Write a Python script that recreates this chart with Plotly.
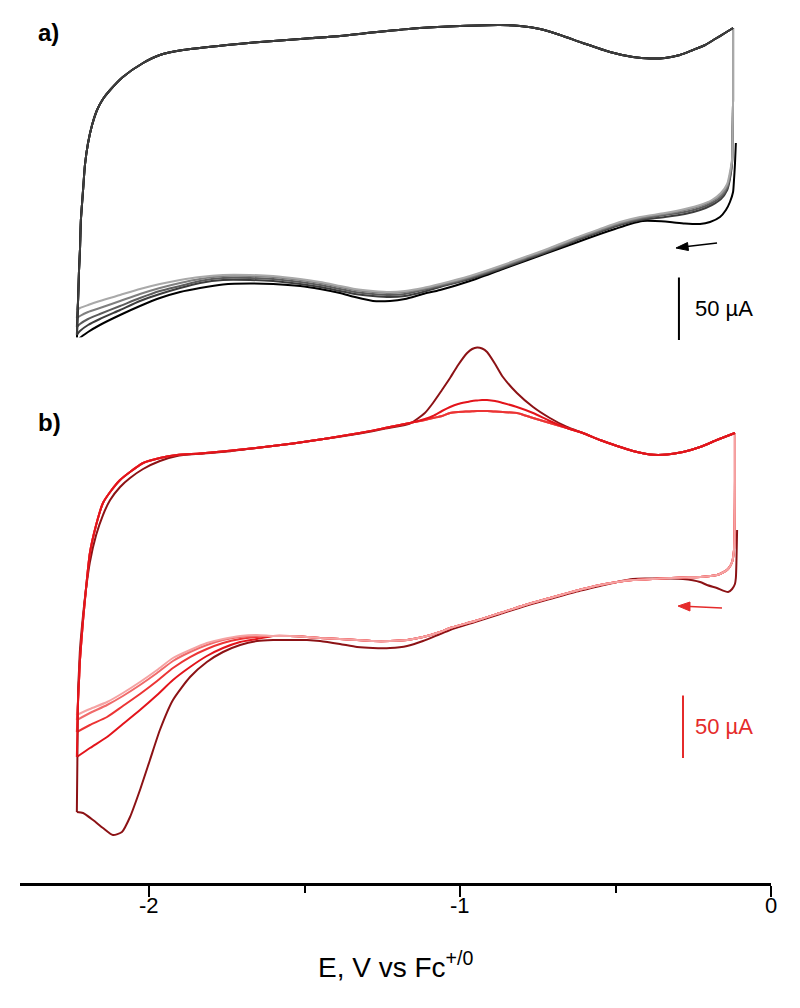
import plotly.graph_objects as go

# ================= Panel a : blank electrolyte scans (black -> light grey) =================
# anodic (return) sweep, shared by all scans of panel a
a_top_E = [-2.228, -2.225, -2.222, -2.219, -2.212, -2.206, -2.196, -2.183, -2.167, -2.148, -2.125, -2.084,
           -2.019, -1.965, -1.891, -1.749, -1.643, -1.514, -1.386, -1.267, -1.129, -1.000, -0.871, -0.807,
           -0.743, -0.678, -0.605, -0.518, -0.444, -0.389, -0.341, -0.293, -0.251, -0.212, -0.180, -0.148, -0.122]
a_top_I = [-80, -56, -40, -16, 8, 28, 45.6, 60, 72, 80.8, 88, 98.4, 109.6, 116, 120, 124, 126.4, 128.8, 131.2,
           134.4, 137.6, 139.2, 140, 139.2, 136.8, 132, 125.6, 118.4, 114.4, 113.2, 113.6, 116, 120, 124, 128.8,
           133.6, 137.6]

# first scan (black), cathodic sweep
a_black_E = [-0.113, -0.116, -0.119, -0.122, -0.132, -0.145, -0.164, -0.196, -0.228, -0.277, -0.325, -0.373,
             -0.412, -0.453, -0.502, -0.550, -0.630, -0.711, -0.791, -0.871, -0.968, -1.064, -1.119, -1.177,
             -1.225, -1.280, -1.338, -1.386, -1.450, -1.514, -1.601, -1.675, -1.762, -1.836, -1.900, -1.965,
             -2.029, -2.093, -2.158, -2.196, -2.222, -2.232]
a_black_I = [45.6, 28, 16, 6.4, -1.6, -8, -13.6, -17.6, -19.2, -18.8, -17.6, -16.8, -16.8, -19.2, -23.2, -27.2,
             -34.4, -41.6, -48.8, -56, -64.8, -72, -75.2, -79.2, -80.8, -80.8, -77.6, -74.4, -71.2, -68.8, -67.2,
             -66.8, -67.6, -70.4, -73.6, -78.4, -84.8, -92, -100, -105.6, -110.4, -113.6]

# later scans (greys), cathodic sweep
a_grey_E = [-0.122, -0.122, -0.124, -0.125, -0.132, -0.141, -0.161, -0.190, -0.228, -0.277, -0.341, -0.421,
            -0.486, -0.550, -0.630, -0.711, -0.791, -0.871, -0.968, -1.064, -1.119, -1.177, -1.225, -1.280,
            -1.338, -1.386, -1.450, -1.514, -1.601, -1.675, -1.762, -1.836, -1.900, -1.965, -2.029, -2.093,
            -2.158, -2.196, -2.222, -2.232]
a_scan2_I = [137.6, 80, 48, 30.4, 16.8, 8, 0.8, -4, -8, -11.2, -13.6, -16, -20, -25.6, -32.8, -40.8, -48, -55.2,
             -63.2, -69.6, -73.6, -76.8, -77.6, -76.8, -75.2, -72.8, -69.6, -67.2, -64.8, -64, -64, -66.4, -70.4,
             -75.2, -80.8, -88, -95.2, -100, -104.8, -108]
a_scan3_I = [137.6, 80, 48, 31.2, 18.4, 9.6, 2.4, -2.4, -6.4, -9.6, -12, -15.2, -19.2, -24.8, -32, -40, -47.2,
             -54.4, -62.4, -68.8, -72, -75.2, -76, -75.2, -73.6, -71.2, -68, -65.6, -63.2, -62.4, -62.4, -64.8,
             -68.8, -72.8, -78.4, -84.8, -91.2, -95.2, -99.2, -101.6]
a_scan4_I = [137.6, 80, 48, 32, 20, 11.2, 4, -0.8, -4.8, -8, -11.2, -14.4, -18.4, -24, -31.2, -39.2, -46.4, -53.6,
             -61.6, -68, -71.2, -73.6, -74.4, -73.6, -72, -69.6, -66.4, -64, -61.6, -60.8, -60.8, -63.2, -66.4,
             -70.4, -75.2, -80.8, -86.4, -89.6, -92.8, -94.4]
a_scan5_I = [137.6, 80, 48, 33.6, 22.4, 12.8, 5.6, 0, -4, -7.2, -10.4, -13.6, -17.6, -23.2, -30.4, -38.4, -45.6,
             -52.8, -60.8, -67.2, -70.4, -72.8, -73.6, -72.8, -71.2, -68.8, -65.6, -63.2, -60.8, -60, -60, -61.6,
             -64, -67.2, -71.2, -76, -80.8, -84, -86.4, -88]

a_colors = ["#000000", "#3d3d3d", "#5c5c5c", "#7f7f7f", "#a9a9a9"]

# ================= Panel b : scans with analyte (dark red -> light pink) =================
# first scan (dark red), cathodic sweep
b_dr_cath_E = [-0.109, -0.111, -0.113, -0.116, -0.125, -0.138, -0.174, -0.206, -0.228, -0.283, -0.325, -0.357,
               -0.405, -0.444, -0.495, -0.550, -0.630, -0.711, -0.791, -0.871, -0.952, -1.032, -1.064, -1.119,
               -1.170, -1.225, -1.280, -1.331, -1.386, -1.450, -1.492, -1.547, -1.601, -1.653, -1.707, -1.762,
               -1.814, -1.868, -1.923, -1.965, -1.997, -2.029, -2.061, -2.087, -2.116, -2.148, -2.180, -2.212,
               -2.232]
b_dr_cath_I = [56, 32, 17.6, 12.8, 8.8, 6.4, 9.6, 12, 14.4, 16.8, 17.2, 17.2, 17.2, 16.8, 14.4, 11.2, 6.4, 0.8,
               -4.8, -11.2, -17.6, -24, -27.2, -32.8, -36.8, -38.4, -38.4, -37.6, -35.2, -32.8, -32, -32, -32,
               -32.8, -36, -41.6, -49.6, -61.6, -80, -104, -128, -152, -173.6, -185.6, -188, -182.4, -176,
               -170.4, -169.6]

# later scans, cathodic sweep: common right part, then individual left part
b_cath_E = [-0.116, -0.116, -0.117, -0.119, -0.125, -0.138, -0.158, -0.174, -0.228, -0.283, -0.357, -0.444,
            -0.495, -0.550, -0.630, -0.711, -0.791, -0.871, -0.952, -1.032, -1.064, -1.119, -1.170, -1.225,
            -1.280, -1.331, -1.386, -1.450, -1.492, -1.547, -1.601]
b_cath_I = [133.6, 96, 56, 40, 30.4, 24.8, 21.6, 20, 18.4, 18, 17.2, 16, 14.4, 12, 7.2, 1.6, -4, -10.4,
            -16.8, -22.4, -25.6, -29.6, -32, -32.8, -32.8, -32, -31.2, -30.4, -29.6, -28.8, -28.8]
b_left_E = [-1.653, -1.707, -1.762, -1.814, -1.868, -1.923, -1.974, -2.029, -2.084, -2.135, -2.190, -2.232]
b_scan2_left_I = [-31.2, -33.6, -38.4, -44.8, -53.6, -64, -76, -88, -99.2, -109.6, -118.4, -125.6]
b_scan3_left_I = [-29.6, -31.2, -34.4, -39.2, -45.6, -54.4, -64.8, -75.2, -84.8, -93.6, -100, -105.6]
b_scan4_left_I = [-28.8, -29.6, -32, -36, -41.6, -48.8, -58.4, -68, -76.8, -84, -90.4, -96]
b_scan5_left_I = [-28, -28.8, -31.2, -34.4, -40, -46.4, -56, -65.6, -74.4, -81.6, -87.2, -92]

# anodic sweeps
b_top_E = [-2.228, -2.225, -2.222, -2.212, -2.203, -2.190, -2.170, -2.148, -2.125, -2.093, -2.061, -2.019,
           -1.965, -1.910, -1.836, -1.749, -1.643, -1.537, -1.428, -1.322, -1.241, -1.161, -1.113, -1.087,
           -1.058, -1.032, -1.006, -0.977, -0.961, -0.945, -0.929, -0.913, -0.887, -0.862, -0.817, -0.765,
           -0.711, -0.656, -0.605, -0.550, -0.495, -0.444, -0.389, -0.334, -0.283, -0.228, -0.174, -0.116]
b_dr_top_I = [-72, -56, -40, -12, 8, 30.4, 52, 68, 80, 90.4, 97.6, 104.8, 111.2, 115.2, 117, 118.8, 122,
              125.2, 129.2, 133.2, 137.2, 141.2, 149.6, 157.6, 168, 177.6, 188, 197.6, 200.8, 202, 201.2, 198.4,
              188.8, 178.4, 165.6, 154.4, 145.6, 138.4, 133.6, 128, 123.2, 119.2, 116.4, 116.4, 118.4, 122.4,
              128, 133.6]
b_scan2_top_I = [-80, -64, -48, -16, 8, 37.6, 60, 77.6, 86.4, 96, 102.4, 109.6, 113.6, 116, 117.2, 119.2, 122,
                 125.2, 129.2, 133.6, 137.6, 141.6, 144.8, 147.2, 151.2, 154.4, 156.8, 158.4, 159.2, 159.6, 160,
                 160, 159.2, 157.6, 154.4, 149.6, 143.2, 137.6, 133.6, 128, 123.2, 119.2, 116.4, 116.4, 118.4,
                 122.4, 128, 133.6]
b_base_top_I = [-80, -64, -48, -16, 8, 37.6, 60, 77.6, 86.4, 96, 102.4, 109.6, 113.6, 116, 117.2, 119.2, 122,
                125.2, 129.2, 133.6, 137.6, 141.6, 144, 145.6, 147.2, 149.6, 150.4, 150.8, 151, 151.2, 151.2,
                151.2, 150.8, 150.4, 149.6, 145.6, 141.6, 137.6, 133.6, 128, 123.2, 119.2, 116.4, 116.4, 118.4,
                122.4, 128, 133.6]

b_colors = ["#8c1215", "#e3141b", "#ec3434", "#f06a6a", "#f5a3a3"]
red_label = "#e52b2b"

# x-axis tick labels and title
x_tickvals = [-2, -1, 0]
x_ticktext = ["-2", "-1", "0"]
x_minor = [-1.5, -0.5]
x_title = "E, V vs Fc<sup>+/0</sup>"

# ---------------- build scans ----------------
a_cath = [(a_black_E, a_black_I)] + [(a_grey_E, s) for s in (a_scan2_I, a_scan3_I, a_scan4_I, a_scan5_I)]
b_cath = [(b_dr_cath_E, b_dr_cath_I)] + [
    (b_cath_E + b_left_E, b_cath_I + s) for s in (b_scan2_left_I, b_scan3_left_I, b_scan4_left_I, b_scan5_left_I)]
b_tops = [b_dr_top_I, b_scan2_top_I, b_base_top_I, b_base_top_I, b_base_top_I]

fig = go.Figure()
LW = 2
LINE = dict(width=LW, shape="spline", smoothing=0.6)

# panel a: cathodic parts (first -> last), then anodic parts
for (E, I), c in zip(a_cath, a_colors):
    fig.add_trace(go.Scatter(x=E, y=I, mode="lines", line=dict(color=c, **LINE), xaxis="x", yaxis="y"))
for k in [4, 3, 2, 0, 1]:
    E, I = a_cath[k]
    fig.add_trace(go.Scatter(x=[E[-1]] + a_top_E, y=[I[-1]] + a_top_I, mode="lines",
                             line=dict(color=a_colors[k], **LINE), xaxis="x", yaxis="y"))

# panel b
for (E, I), c in zip(b_cath, b_colors):
    fig.add_trace(go.Scatter(x=E, y=I, mode="lines", line=dict(color=c, **LINE), xaxis="x", yaxis="y2"))
for k in [4, 3, 0, 2, 1]:
    E, I = b_cath[k]
    fig.add_trace(go.Scatter(x=[E[-1]] + b_top_E, y=[I[-1]] + b_tops[k], mode="lines",
                             line=dict(color=b_colors[k], **LINE), xaxis="x", yaxis="y2"))

FONT = "Arial, Liberation Sans, sans-serif"

# scale bars (50 µA) drawn in data units of each panel
fig.add_shape(type="line", xref="x", yref="y", x0=-0.296, x1=-0.296, y0=-112, y1=-62,
              line=dict(color="black", width=2))
fig.add_shape(type="line", xref="x", yref="y2", x0=-0.283, x1=-0.283, y0=-126.4, y1=-76.4,
              line=dict(color=red_label, width=2))
fig.add_annotation(xref="x", yref="y", x=-0.252, y=-87, text="50 µA", showarrow=False, xanchor="left",
                   yanchor="middle", font=dict(family=FONT, size=22, color="black"))
fig.add_annotation(xref="x", yref="y2", x=-0.252, y=-101.4, text="50 µA", showarrow=False, xanchor="left",
                   yanchor="middle", font=dict(family=FONT, size=22, color=red_label))

# scan-direction arrows (shaft + filled head)
fig.add_shape(type="line", xref="x", yref="y", x0=-0.1736, y0=-34.4, x1=-0.27, y1=-37.2,
              line=dict(color="black", width=1.6))
fig.add_shape(type="path", xref="x", yref="y", path="M -0.3055,-38.4 L -0.2685,-34 L -0.2653,-40.4 Z",
              fillcolor="black", line=dict(color="black", width=1))
fig.add_shape(type="line", xref="x", yref="y2", x0=-0.1576, y0=-6.4, x1=-0.2605, y1=-5.2,
              line=dict(color=red_label, width=1.6))
fig.add_shape(type="path", xref="x", yref="y2", path="M -0.299,-4.8 L -0.2605,-1.6 L -0.2605,-8.8 Z",
              fillcolor=red_label, line=dict(color=red_label, width=1))

# panel labels
fig.add_annotation(xref="paper", yref="paper", x=0.0215, y=0.9737, text="<b>a)</b>", showarrow=False,
                   xanchor="left", yanchor="middle", font=dict(family=FONT, size=24, color="black"))
fig.add_annotation(xref="paper", yref="paper", x=0.0215, y=0.528, text="<b>b)</b>", showarrow=False,
                   xanchor="left", yanchor="middle", font=dict(family=FONT, size=24, color="black"))

# x tick labels and axis title as text placed under the axis
for v, t in zip(x_tickvals, x_ticktext):
    fig.add_annotation(xref="x", yref="paper", x=v, y=-0.0263, text=t, showarrow=False,
                       xanchor="center", yanchor="middle", font=dict(family=FONT, size=22, color="black"))
fig.add_annotation(xref="paper", yref="paper", x=0.5, y=-0.094, text=x_title, showarrow=False,
                   xanchor="center", yanchor="middle", font=dict(family=FONT, size=28, color="black"))

fig.update_layout(
    width=800, height=1008,
    margin=dict(l=12, r=37, t=2, b=133),
    paper_bgcolor="white", plot_bgcolor="white",
    showlegend=False,
    xaxis=dict(range=[-2.4148, 0], anchor="y2", showline=True, linecolor="black", linewidth=2.5,
               ticks="outside", tickvals=x_tickvals, ticktext=x_ticktext, showticklabels=False,
               ticklen=11, tickwidth=2, tickcolor="black",
               minor=dict(tickvals=x_minor, ticks="outside", ticklen=7, tickwidth=2, tickcolor="black"),
               showgrid=False, zeroline=False),
    yaxis=dict(domain=[0.61, 1], range=[-120.376, 152], visible=False, fixedrange=True),
    yaxis2=dict(domain=[0, 0.625], range=[-226.4, 210.1], visible=False, fixedrange=True),
)

fig.write_html("out.html")
